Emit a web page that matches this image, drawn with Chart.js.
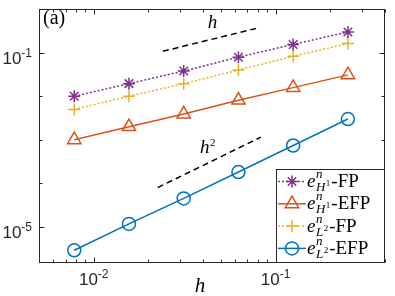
<!DOCTYPE html>
<html>
<head>
<meta charset="utf-8">
<script src="https://cdn.jsdelivr.net/npm/chart.js@4.4.1/dist/chart.umd.min.js"></script>
<style>
  body { margin: 0; background: #fff; }
  #wrap { width: 395px; height: 296px; }
</style>
</head>
<body>
<div id="wrap"><canvas id="myChart" width="395" height="296"></canvas></div>
<script>
// mesh sizes and errors
const hVals = [1/128, 1/64, 1/32, 1/16, 1/8, 1/4];
const errH1FP = [0.0100, 0.0195, 0.038, 0.079, 0.155, 0.30];
const errH1EFP = [0.0010, 0.0020, 0.0039, 0.0081, 0.0158, 0.031];
const errL2FP = [0.0050, 0.0100, 0.0195, 0.040, 0.083, 0.163];
const errL2EFP = [2.9e-6, 1.17e-5, 4.5e-5, 1.82e-4, 7.4e-4, 3.0e-3];

// reference slopes
const refHx = [0.024, 0.08];
const refHy = [0.108, 0.37];
const refH2x = [0.0225, 0.083];
const refH2y = [8e-5, 1.15e-3];

const xTicks = [0.01, 0.1];
const yTicks = [1e-5, 1e-1];

const blue = '#0072BD', orange = '#D95319', yellow = '#EDB120', purple = '#7E2F8E';
const axisCol = '#262626';
const serif = '"Liberation Serif", "Times New Roman", serif';
const sans = '"Liberation Sans", Arial, sans-serif';

function pts(xs, ys) { return xs.map((x, i) => ({x: x, y: ys[i]})); }

// draw "10" with a raised exponent
function sansPow(ctx, base, exp, x, y, align) {
  ctx.font = '17px ' + sans;
  let w1 = ctx.measureText(base).width;
  ctx.font = '12px ' + sans;
  let w2 = ctx.measureText(exp).width;
  let x0 = align === 'center' ? x - (w1 + w2) / 2 : x - w1 - w2;
  ctx.textAlign = 'left';
  ctx.textBaseline = 'alphabetic';
  ctx.font = '17px ' + sans;
  ctx.fillText(base, x0, y);
  ctx.font = '12px ' + sans;
  ctx.fillText(exp, x0 + w1, y - 7);
}

const legendItems = [
  {col: purple, style: 'star', dash: [2, 2], sub: 'H', subSup: '1', tail: '-FP'},
  {col: orange, style: 'triangle', dash: [], sub: 'H', subSup: '1', tail: '-EFP'},
  {col: yellow, style: 'cross', dash: [2, 2], sub: 'L', subSup: '2', tail: '-FP'},
  {col: blue, style: 'circle', dash: [], sub: 'L', subSup: '2', tail: '-EFP'}
];
const markerSize = {star: 6, triangle: 7.7, cross: 6, circle: 6.5};

const matlabAxes = {
  id: 'matlabAxes',
  afterDraw(chart) {
    const ctx = chart.ctx;
    const a = chart.chartArea;
    const xs = chart.scales.x, ys = chart.scales.y;
    ctx.save();
    ctx.strokeStyle = axisCol;
    ctx.fillStyle = axisCol;
    ctx.lineWidth = 1;
    const L = Math.round(a.left) + 0.5, R = Math.round(a.right) - 0.5;
    const T = Math.round(a.top) + 0.5, B = Math.round(a.bottom) - 0.5;

    // x ticks
    for (let e = -3; e <= 0; e++) {
      for (let k = 1; k <= 9; k++) {
        const v = k * Math.pow(10, e);
        if (v < xs.min || v > xs.max) continue;
        const px = Math.round(xs.getPixelForValue(v)) + 0.5;
        const len = k === 1 ? 5 : 3;
        ctx.beginPath();
        ctx.moveTo(px, B); ctx.lineTo(px, B - len);
        ctx.moveTo(px, T); ctx.lineTo(px, T + len);
        ctx.stroke();
      }
    }
    // y ticks: decades only
    for (let e = -6; e <= 0; e++) {
      const v = Math.pow(10, e);
      if (v < ys.min || v > ys.max) continue;
      const py = Math.round(ys.getPixelForValue(v)) + 0.5;
      const len = yTicks.includes(v) ? 5 : 3;
      ctx.beginPath();
      ctx.moveTo(L, py); ctx.lineTo(L + len, py);
      ctx.moveTo(R, py); ctx.lineTo(R - len, py);
      ctx.stroke();
    }
    // box
    ctx.strokeRect(L, T, R - L, B - T);

    // tick labels
    xTicks.forEach(v => {
      const px = xs.getPixelForValue(v);
      sansPow(ctx, '10', String(Math.round(Math.log10(v))), px, a.bottom + 22, 'center');
    });
    yTicks.forEach(v => {
      const py = ys.getPixelForValue(v);
      sansPow(ctx, '10', String(Math.round(Math.log10(v))), a.left - 7, py + 11.5, 'right');
    });

    // axis label and annotations
    ctx.fillStyle = '#000';
    ctx.textAlign = 'center';
    ctx.font = 'italic 21px ' + serif;
    ctx.fillText('h', 200, 292);
    ctx.font = 'italic 19px ' + serif;
    ctx.fillText('h', 212.5, 28);
    ctx.textAlign = 'left';
    ctx.fillText('h', 200, 153);
    ctx.font = '11px ' + serif;
    ctx.fillText('2', 210, 146);
    ctx.font = '20px ' + serif;
    ctx.fillText('(a)', 43, 24);

    // legend
    const lx = 276.5, ly = 169.5, lw = R - lx, lh = B - ly;
    ctx.fillStyle = '#fff';
    ctx.fillRect(lx, ly, lw, lh);
    ctx.strokeStyle = axisCol;
    ctx.strokeRect(lx, ly, lw, lh);
    legendItems.forEach((it, i) => {
      const base = 187 + i * 22.3;
      const my = base - 5.5;
      ctx.strokeStyle = it.col;
      ctx.lineWidth = 1.5;
      ctx.setLineDash(it.dash);
      ctx.beginPath();
      ctx.moveTo(278, my); ctx.lineTo(306, my);
      ctx.stroke();
      ctx.setLineDash([]);
      ctx.fillStyle = 'rgba(0,0,0,0)';
      Chart.helpers.drawPoint(ctx, {pointStyle: it.style, radius: markerSize[it.style], rotation: 0, borderWidth: 1.5}, 292, my);
      ctx.fillStyle = '#000';
      let x = 307;
      ctx.font = 'italic 19px ' + serif;
      ctx.fillText('e', x, base);
      x += ctx.measureText('e').width + 0.5;
      ctx.font = 'italic 13px ' + serif;
      ctx.fillText('n', x, base - 9);
      const wn = ctx.measureText('n').width;
      ctx.fillText(it.sub, x, base + 4);
      const ws = ctx.measureText(it.sub).width;
      ctx.font = '9px ' + serif;
      ctx.fillText(it.subSup, x + ws + 0.5, base - 1);
      const wss = ctx.measureText(it.subSup).width;
      x += Math.max(wn, ws + wss + 0.5) + 1;
      ctx.font = '19px ' + serif;
      ctx.fillText(it.tail, x, base);
    });
    ctx.restore();
  }
};

const ctxEl = document.getElementById('myChart').getContext('2d');

const myChart = new Chart(ctxEl, {
  type: 'line',
  data: {
    datasets: [
      {label: 'refH', data: pts(refHx, refHy), borderColor: '#000', borderWidth: 1.5, borderDash: [6, 4], pointRadius: 0},
      {label: 'refH2', data: pts(refH2x, refH2y), borderColor: '#000', borderWidth: 1.5, borderDash: [6, 4], pointRadius: 0},
      {label: 'H1-FP', data: pts(hVals, errH1FP), borderColor: purple, borderWidth: 1.5, borderDash: [2, 2],
        pointStyle: 'star', pointRadius: 6, pointBorderWidth: 1.5, pointBorderColor: purple, pointBackgroundColor: 'transparent'},
      {label: 'H1-EFP', data: pts(hVals, errH1EFP), borderColor: orange, borderWidth: 1.5,
        pointStyle: 'triangle', pointRadius: 7.7, pointBorderWidth: 1.5, pointBorderColor: orange, pointBackgroundColor: 'transparent'},
      {label: 'L2-FP', data: pts(hVals, errL2FP), borderColor: yellow, borderWidth: 1.5, borderDash: [2, 2],
        pointStyle: 'cross', pointRadius: 6, pointBorderWidth: 1.5, pointBorderColor: yellow, pointBackgroundColor: 'transparent'},
      {label: 'L2-EFP', data: pts(hVals, errL2EFP), borderColor: blue, borderWidth: 1.5,
        pointStyle: 'circle', pointRadius: 6.5, pointBorderWidth: 1.5, pointBorderColor: blue, pointBackgroundColor: 'transparent'}
    ]
  },
  options: {
    responsive: false,
    animation: false,
    devicePixelRatio: 1,
    layout: {padding: {left: 39, top: 4, right: 10, bottom: 33}},
    elements: {line: {tension: 0}},
    scales: {
      x: {type: 'logarithmic', min: 0.005, max: 0.4, display: false},
      y: {type: 'logarithmic', min: 1.48e-6, max: 1, display: false}
    },
    plugins: {
      legend: {display: false},
      tooltip: {enabled: false}
    }
  },
  plugins: [matlabAxes]
});
</script>
</body>
</html>
